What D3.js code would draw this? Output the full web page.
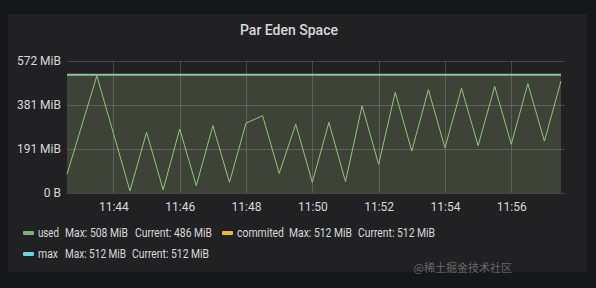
<!DOCTYPE html>
<html lang="en">
<head>
    <meta charset="UTF-8">
    <title>Par Eden Space</title>
    <script src="https://d3js.org/d3.v7.min.js"></script>
    <style>
        html, body { margin: 0; padding: 0; background: #161719; }
        .chart text { font-family: Roboto, "Noto Sans", sans-serif; fill: #d8d9da; }
    </style>
</head>
<body>
    <div class="chart"></div>

    <script>
        // time stamps (hh:mm:ss) and used heap in MiB
        const times = ["11:42:36", "11:43:30", "11:44:30", "11:45:00", "11:45:30", "11:46:00", "11:46:30",
            "11:47:00", "11:47:30", "11:48:00", "11:48:30", "11:49:00", "11:49:30", "11:50:00", "11:50:30",
            "11:51:00", "11:51:30", "11:52:00", "11:52:30", "11:53:00", "11:53:30", "11:54:00", "11:54:30",
            "11:55:00", "11:55:30", "11:56:00", "11:56:30", "11:57:00", "11:57:30"];
        const used = [81, 508, 9, 263, 14, 277, 32, 292, 46, 303, 335, 85, 298, 46, 306, 49, 378, 124,
            436, 182, 448, 196, 454, 205, 462, 211, 474, 225, 485];
        const commited = times.map(() => 512);
        const maxMem = times.map(() => 512);

        const yTicks = [0, 572 / 3, 572 * 2 / 3, 572];
        const yTickLabels = ["0 B", "191 MiB", "381 MiB", "572 MiB"];
        const xTicks = ["11:44", "11:46", "11:48", "11:50", "11:52", "11:54", "11:56"];

        const legend = [
            {name: "used", color: "#7eb26d", max: "508 MiB", cur: "486 MiB"},
            {name: "commited", color: "#eab839", max: "512 MiB", cur: "512 MiB"},
            {name: "max", color: "#6ed0e0", max: "512 MiB", cur: "512 MiB"}
        ];

        const W = 596, H = 288;
        const parse = d3.timeParse("%H:%M:%S");
        const parseHM = d3.timeParse("%H:%M");
        const data = times.map((t, i) => ({t: parse(t), used: used[i], commited: commited[i], max: maxMem[i]}));

        const svg = d3.select('.chart').append('svg')
            .attr('width', W).attr('height', H);

        // panel
        svg.append('rect').attr('x', 8).attr('y', 14).attr('width', 579).attr('height', 258)
            .attr('fill', '#212124');

        svg.append('text').attr('x', 289).attr('y', 35).attr('text-anchor', 'middle')
            .style('font-size', '14px').style('font-weight', 500).text('Par Eden Space');

        const x = d3.scaleTime()
            .domain(d3.extent(data, d => d.t))
            .range([67, 561]);
        const y = d3.scaleLinear().domain([0, 572]).range([193, 61]);

        // filled area under commited
        svg.append('path').datum(data)
            .attr('fill', '#3d4437')
            .attr('d', d3.area().x(d => x(d.t)).y0(y(0)).y1(d => y(d.commited)));

        // grid
        const grid = svg.append('g');
        grid.selectAll('.hg').data(yTicks).enter().append('line')
            .attr('x1', 67).attr('x2', 565)
            .attr('y1', d => Math.round(y(d)) + 0.5).attr('y2', d => Math.round(y(d)) + 0.5)
            .attr('stroke', 'rgba(255,255,255,0.16)');
        grid.selectAll('.vg').data(xTicks).enter().append('line')
            .attr('x1', d => Math.round(x(parseHM(d))) + 0.5).attr('x2', d => Math.round(x(parseHM(d))) + 0.5)
            .attr('y1', 61).attr('y2', 193)
            .attr('stroke', 'rgba(255,255,255,0.16)');

        // axes labels
        const yAxis = svg.append('g').attr('transform', 'translate(67,0)')
            .call(d3.axisLeft(y).tickValues(yTicks).tickFormat((d, i) => yTickLabels[i]).tickSize(0).tickPadding(6));
        yAxis.select('.domain').remove();
        yAxis.selectAll('text').style('font-size', '12px').attr('fill', '#d8d9da');

        const xAxis = svg.append('g').attr('transform', 'translate(0,193)')
            .call(d3.axisBottom(x).tickValues(xTicks.map(parseHM)).tickFormat(d3.timeFormat('%H:%M')).tickSize(0).tickPadding(9));
        xAxis.select('.domain').remove();
        xAxis.selectAll('text').style('font-size', '12px').attr('fill', '#d8d9da');

        // lines
        svg.append('path').datum(data)
            .attr('fill', 'none').attr('stroke', '#8ec4a0').attr('stroke-width', 2)
            .attr('d', d3.line().x(d => x(d.t)).y(d => y(d.max)));
        svg.append('path').datum(data)
            .attr('fill', 'none').attr('stroke', '#93c47f').attr('stroke-width', 1)
            .attr('d', d3.line().x(d => x(d.t)).y(d => y(d.used)));

        // legend (the reference font is narrow, so squeeze each piece to its width)
        const legPos = [
            {x: 23, y: 233, mx: 65, cx: 135, w: [21, 63, 77]},
            {x: 222, y: 233, mx: 289, cx: 358, w: [47, 63, 77]},
            {x: 23, y: 254, mx: 65, cx: 132, w: [20, 61, 77]}
        ];
        legend.forEach((l, i) => {
            const p = legPos[i];
            const g = svg.append('g');
            g.append('rect').attr('x', p.x).attr('y', p.y - 2).attr('width', 11).attr('height', 4)
                .attr('rx', 1).attr('fill', l.color);
            const parts = [[p.x + 15, l.name], [p.mx, 'Max: ' + l.max], [p.cx, 'Current: ' + l.cur]];
            parts.forEach((q, j) => {
                g.append('text').attr('x', q[0]).attr('y', p.y + 4).style('font-size', '12px')
                    .attr('textLength', p.w[j]).attr('lengthAdjust', 'spacingAndGlyphs').text(q[1]);
            });
        });

        svg.append('text').attr('x', 512).attr('y', 272).attr('text-anchor', 'end')
            .style('font-size', '11px').style('fill', 'rgba(255,255,255,0.33)')
            .style('font-family', '"Noto Sans CJK SC", sans-serif')
            .text('@稀土掘金技术社区');
    </script>
</body>
</html>
